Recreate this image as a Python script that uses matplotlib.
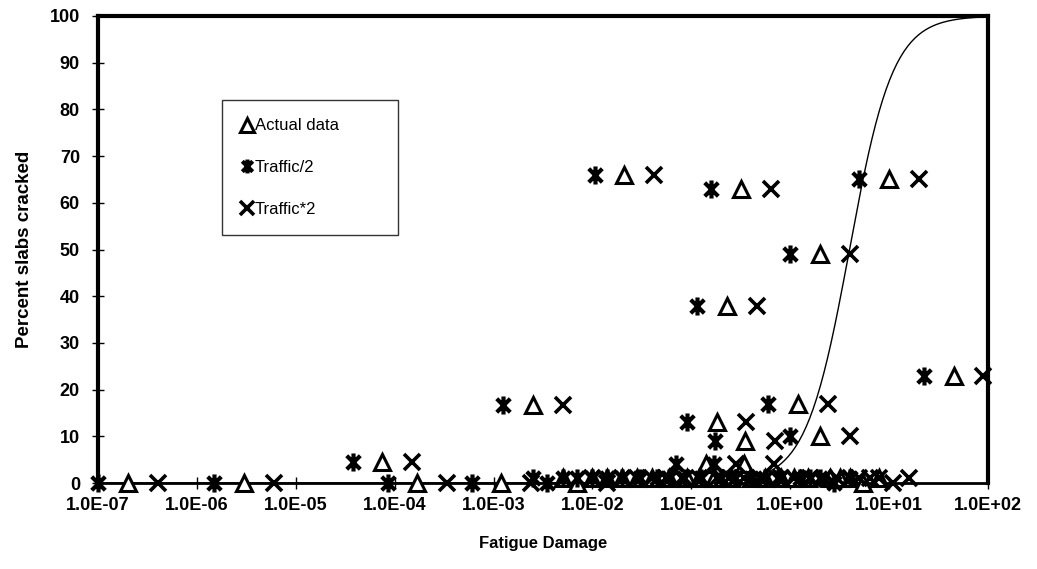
import numpy as np
import matplotlib
matplotlib.use('Agg')
import matplotlib.pyplot as plt
from matplotlib.path import Path

plt.rcParams['font.family'] = ['Liberation Sans', 'DejaVu Sans']

# actual fatigue damage / percent slabs cracked
fd_actual = [2e-7, 3e-6, 7.5e-5, 1.7e-4, 1.2e-3, 2.5e-3, 5e-3, 7e-3, 1.0e-2, 1.4e-2,
             2.0e-2, 2.1e-2, 2.8e-2, 4.0e-2, 6.0e-2, 9.0e-2, 0.12, 0.14, 0.18, 0.17,
             0.23, 0.25, 0.35, 0.32, 0.34, 0.40, 0.55, 0.80, 1.2, 1.1,
             1.5, 2.0, 2.0, 2.5, 3.2, 4.0, 5.5, 8.0, 10.0, 45.0]
pct_cracked = [0, 0, 4.5, 0, 0, 16.7, 1, 0, 1, 1,
               1, 66, 1, 1, 1, 1, 1, 4, 13, 1,
               38, 1, 9, 63, 4, 1, 1, 1, 17, 1,
               1, 10, 49, 1, 1, 1, 0, 1, 65, 23]
fd_traffic_half = [1e-7, 1.5e-6, 3.75e-5, 8.5e-5, 6e-4, 1.25e-3, 2.5e-3, 3.5e-3, 5e-3, 7e-3,
                   1e-2, 1.05e-2, 1.4e-2, 2e-2, 3e-2, 4.5e-2, 0.06, 0.07, 0.09, 0.085,
                   0.115, 0.125, 0.175, 0.16, 0.17, 0.2, 0.275, 0.4, 0.6, 0.55,
                   0.75, 1.0, 1.0, 1.25, 1.6, 2.0, 2.75, 4.0, 5.0, 22.5]
fd_traffic_double = [4e-7, 6e-6, 1.5e-4, 3.4e-4, 2.4e-3, 5e-3, 1e-2, 1.4e-2, 2e-2, 2.8e-2,
                     4e-2, 4.2e-2, 5.6e-2, 8e-2, 0.12, 0.18, 0.24, 0.28, 0.36, 0.34,
                     0.46, 0.5, 0.7, 0.64, 0.68, 0.8, 1.1, 1.6, 2.4, 2.2,
                     3.0, 4.0, 4.0, 5.0, 6.4, 8.0, 11.0, 16.0, 20.0, 90.0]

# transfer function: %cracked = 100 / (1 + C * FD^B)
C_fit = 15.2
B_fit = -1.97

xticks = [1e-7, 1e-6, 1e-5, 1e-4, 1e-3, 1e-2, 1e-1, 1e0, 1e1, 1e2]
xticklabels = ['1.0E-07', '1.0E-06', '1.0E-05', '1.0E-04', '1.0E-03',
               '1.0E-02', '1.0E-01', '1.0E+00', '1.0E+01', '1.0E+02']

# excel style asterisk: X with a vertical bar
ast = Path([(0, -1), (0, 1), (-0.75, -0.75), (0.75, 0.75), (-0.75, 0.75), (0.75, -0.75)],
           [Path.MOVETO, Path.LINETO, Path.MOVETO, Path.LINETO, Path.MOVETO, Path.LINETO])

fig = plt.figure(figsize=(10.37, 5.69), dpi=100)
ax = fig.add_axes([0.0945, 0.1511, 0.8582, 0.8208])

fd_curve = np.logspace(-7, 2, 500)
ax.plot(fd_curve, 100 / (1 + C_fit * fd_curve ** B_fit), color='black', lw=1.0, zorder=2)

ax.plot(fd_actual, pct_cracked, ls='none', marker='^', ms=11, mfc='white', mec='black',
        mew=2.2, clip_on=False, zorder=4, label='Actual data')
ax.plot(fd_traffic_half, pct_cracked, ls='none', marker=ast, ms=13, mfc='none', mec='black',
        mew=3.0, clip_on=False, zorder=4, label='Traffic/2')
ax.plot(fd_traffic_double, pct_cracked, ls='none', marker='x', ms=12, mec='black',
        mew=2.6, clip_on=False, zorder=4, label='Traffic*2')

ax.set_xscale('log')
ax.set_xlim(1e-7, 1e2)
ax.set_ylim(0, 100)
ax.set_xticks(xticks)
ax.set_xticklabels(xticklabels)
ax.minorticks_off()
ax.set_yticks(range(0, 101, 10))

for s in ['left', 'top', 'right']:
    ax.spines[s].set_linewidth(3)
ax.spines['bottom'].set_linewidth(2)
ax.tick_params(direction='inout', length=8, width=1, labelsize=13)
ax.tick_params(axis='y', pad=9)
ax.tick_params(axis='x', pad=6)
for lab in ax.get_xticklabels() + ax.get_yticklabels():
    lab.set_fontweight('bold')

ax.set_xlabel('Fatigue Damage', fontsize=12, fontweight='bold', labelpad=16)
ax.set_ylabel('Percent slabs cracked', fontsize=13.5, fontweight='bold', labelpad=12)

leg = ax.legend(loc='upper left', bbox_to_anchor=(0.139, 0.546, 0.198, 0.274), mode='expand',
                frameon=True, fancybox=False, edgecolor='black', fontsize=12,
                handlelength=0.8, handletextpad=0.1, labelspacing=1.6, borderpad=1.1,
                borderaxespad=0)
leg.get_frame().set_linewidth(1.0)
for h in leg.legend_handles:
    h.set_markersize(10)

fig.savefig('out.png', dpi=100)
